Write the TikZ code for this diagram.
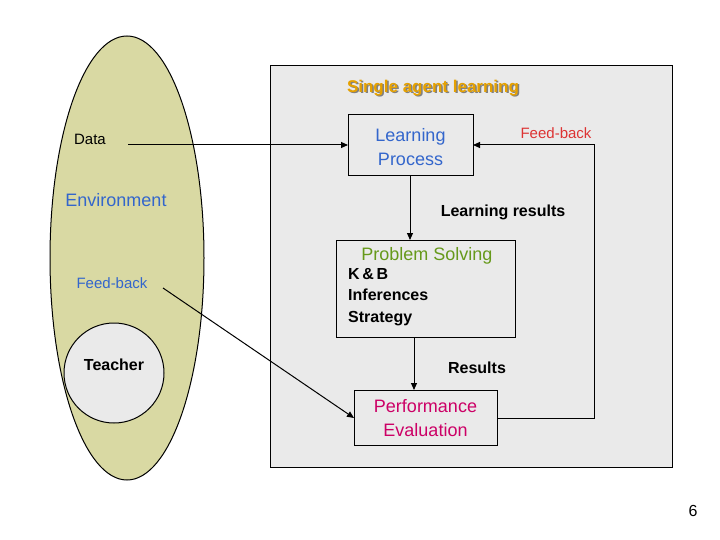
\documentclass[tikz,border=0pt]{standalone}
\usepackage{fontspec}
\setmainfont{Liberation Sans}
\usetikzlibrary{arrows.meta}
\definecolor{olive}{HTML}{D9D9A3}
\definecolor{bgray}{HTML}{EAEAEA}
\definecolor{tblue}{HTML}{3366CC}
\definecolor{tgreen}{HTML}{66991A}
\definecolor{tmag}{HTML}{CC0066}
\definecolor{tred}{HTML}{DD3333}
\definecolor{torange}{HTML}{E6A100}
\begin{document}
\begin{tikzpicture}[x=1pt,y=-1pt,
 box/.style={draw,line width=1pt,fill=bgray},
 arr/.style={-{Triangle[length=7pt,width=6pt]},line width=1pt}]
\useasboundingbox (0,0) rectangle (720,540);
\fill[white] (0,0) rectangle (720,540);
\draw[line width=1pt,fill=olive] (127,258) ellipse [x radius=77,y radius=222];
\draw[line width=1pt,fill=bgray] (114,373) circle (50);
\draw[line width=1pt,fill=bgray] (270,66) rectangle (672,467);
\node[font=\fontsize{17}{20}\selectfont\bfseries,text=gray] (shd) at (434.5,89.5) {Single agent learning};
\node[font=\fontsize{17}{20}\selectfont\bfseries,text=torange] (title) at (433,88) {Single agent learning};
\draw[box] (348,115) rectangle (473,176);
\node[text=tblue,font=\fontsize{18}{24}\selectfont,align=center] (lp) at (410.5,147.5) {Learning\\ Process};
\coordinate (lpR) at (473,145);
\coordinate (lpL) at (348,145);
\coordinate (lpB) at (410,176);
\draw[box] (336,240) rectangle (515,337);
\node[text=tgreen,font=\fontsize{18}{20}\selectfont] (ps) at (427,256) {Problem Solving};
\node[font=\fontsize{16}{21.5}\selectfont\bfseries,align=left,anchor=north west,inner sep=0pt] (kb) at (348,268) {K\,\&\,B\\Inferences\\Strategy};
\coordinate (psT) at (410,240);
\coordinate (psB) at (414,337);
\draw[box] (354,390) rectangle (497,445);
\node[text=tmag,font=\fontsize{18}{24}\selectfont,align=center] (pe) at (425.5,418) {Performance\\ Evaluation};
\coordinate (peT) at (414,390);
\coordinate (peL) at (354,418);
\coordinate (peR) at (497,418);
\node[font=\fontsize{15}{18}\selectfont] (data) at (90,139) {Data};
\node[text=tblue,font=\fontsize{18}{20}\selectfont] (env) at (116,200) {Environment};
\node[text=tblue,font=\fontsize{15}{18}\selectfont] (fb1) at (112,283) {Feed-back};
\node[font=\fontsize{16}{18}\selectfont\bfseries] (teach) at (114,365) {Teacher};
\node[text=tred,font=\fontsize{15}{18}\selectfont] (fb2) at (556,133) {Feed-back};
\node[font=\fontsize{16}{18}\selectfont\bfseries] (lr) at (503,212) {Learning results};
\node[font=\fontsize{16}{18}\selectfont\bfseries] (res) at (477,368) {Results};
\node[font=\fontsize{16}{18}\selectfont] (pg) at (693,511) {6};
\coordinate (d0) at (128,145);
\coordinate (f0) at (163,288);
\draw[arr] (d0) -- (lpL);
\draw[arr] (lpB) -- (psT);
\draw[arr] (psB) -- (peT);
\draw[arr] (f0) -- (peL);
\draw[arr] (peR) -- (594,418) -- (594,145) -- (lpR);
\end{tikzpicture}
\end{document}
